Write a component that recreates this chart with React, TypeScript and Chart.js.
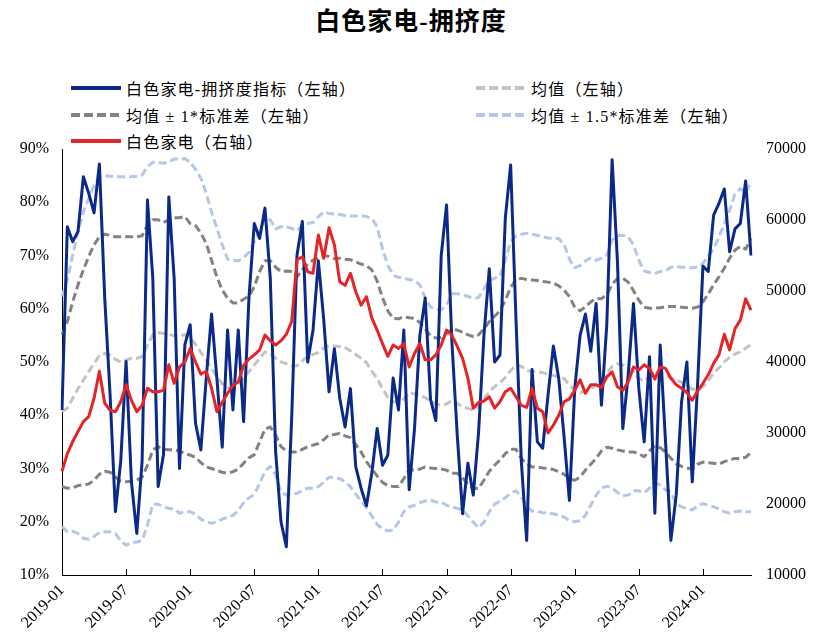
import React, { useEffect, useRef } from 'react';
import { Chart, registerables } from 'chart.js';

Chart.register(...registerables);

// Semi-monthly periods from 2019-01 to mid 2024-05 (130 points)
const periods: string[] = [];
for (let y = 2019; y <= 2024; y++) {
  for (let m = 1; m <= 12; m++) {
    const mm = m < 10 ? '0' + m : '' + m;
    periods.push(`${y}-${mm}-01`, `${y}-${mm}-16`);
  }
}
const labels = periods.slice(0, 130);

// 白色家电-拥挤度指标（左轴, %）
const crowding = [
  41, 75.4, 72.6, 74.5, 84.8, 81.7, 78, 87.2, 62, 43.9, 21.9, 31.4, 50.1, 27.5, 17.8, 31.4, 80.4, 65.7, 26.6, 32.6, 81, 65.7, 30, 53.2, 57,
  38.5, 33.5, 46.9, 59, 46.9, 34, 56, 41, 56, 38.8, 62, 76, 73.2, 78.9, 65.7, 33.1, 20, 15.3, 39.4, 70.1, 76.4, 50, 56, 69, 58, 44.4,
  52.5, 43.2, 37.8, 45, 30.3, 26.3, 23, 29.1, 37.5, 30.6, 32.5, 47, 41, 56, 26, 37.5, 55, 62, 43, 39, 70, 79.5, 53.8, 36.3, 21.5, 31,
  25, 36.9, 55, 67.5, 50, 51.3, 77, 87, 58, 31.3, 16.5, 48.6, 35, 33.8, 43.8, 53, 46.9, 36, 24, 45, 55, 59, 52, 61, 41.9,
  57, 88, 68.8, 37.5, 47.5, 61, 45, 35, 51, 21.6, 53.2, 35, 16.5, 25, 42.5, 50, 27.5, 45.7, 68, 67, 77.6, 79.8, 82.5, 70.7, 75, 76, 84, 70,
];

// 白色家电指数（右轴）
const appliance = [
  24600, 27100, 28800, 30200, 31600, 32300, 34900, 38700, 34200, 33200, 33000, 34400, 36800, 34600, 33000, 33900, 36300, 35800, 35800, 36000, 39600, 37000, 39300, 40000, 41900,
  40000, 38300, 38700, 36300, 33000, 34300, 35600, 36700, 37200, 39500, 40400, 41000, 41700, 43800, 43000, 42400, 43000, 43900, 45700, 54400, 54800, 52700, 52500, 57900, 54600, 58900,
  56500, 51300, 50800, 52500, 49900, 48000, 49200, 46200, 44500, 42600, 40800, 42400, 41900, 42600, 39300, 41200, 42600, 40300, 40300, 41000, 42400, 44500, 43800, 42200, 40500, 37700,
  33500, 34300, 34500, 35100, 33500, 34400, 35800, 36300, 35100, 33900, 33600, 36300, 33500, 33000, 30000, 31100, 32500, 34400, 34800, 36000, 37500, 35600, 36800, 36800, 36400,
  37900, 38600, 36500, 36000, 37200, 39300, 38900, 39600, 39100, 37600, 39300, 39100, 37700, 36800, 36300, 35700, 34600, 35900, 37000, 38200, 39800, 41000, 43900, 41700, 44700, 45900, 48900, 47300,
];

// 均值（左轴）
const meanLine = [
  40.7, 41.3, 43.2, 45.0, 46.6, 48.2, 49.7, 51.2, 51.6, 51.3, 50.5, 50.0, 50.4, 50.7, 50.7, 51.0, 53.2, 55.1, 55.5, 55.4, 55.2, 54.9, 54.9, 55.1, 54.6,
  53.3, 51.8, 50.4, 48.7, 47.2, 45.9, 45.2, 45.2, 45.9, 47.1, 48.2, 49.4, 50.7, 51.9, 51.6, 50.7, 50.0, 49.7, 49.3, 49.3, 50.2, 51.1, 51.4, 51.8, 52.6, 53.1,
  53.0, 52.9, 52.7, 52.1, 51.4, 50.7, 49.9, 48.3, 46.9, 45.0, 43.4, 42.5, 42.6, 43.0, 44.3, 44.0, 43.7, 43.3, 42.7, 42.1, 41.9, 42.1, 42.8, 42.2, 41.6, 41.3,
  41.0, 41.6, 43.1, 44.4, 45.4, 46.1, 47.1, 48.4, 49.4, 49.2, 48.4, 48.2, 48.2, 48.0, 47.7, 47.5, 47.2, 46.9, 45.7, 44.5, 44.2, 44.6, 45.0, 45.7, 46.4,
  47.9, 49.2, 49.7, 49.4, 49.0, 48.2, 46.9, 46.4, 47.2, 48.0, 47.9, 47.5, 46.9, 46.6, 46.2, 45.6, 44.9, 44.9, 45.4, 46.5, 47.9, 48.9, 50.0, 50.9, 51.5, 51.9, 52.6, 53.3,
];

// 均值+1*标准差
const upper1 = [
  55.1, 57.6, 61.3, 64.5, 67.3, 69.8, 72.0, 73.5, 74.0, 73.8, 73.5, 73.5, 73.5, 73.5, 73.5, 73.7, 75.7, 76.7, 76.7, 76.2, 76.7, 77.1, 77.1, 77.3, 76.0,
  75.6, 74.2, 72.3, 69.1, 66.0, 63.5, 62.0, 61.1, 61.1, 61.8, 62.4, 64.1, 67.0, 69.0, 69.0, 67.8, 67.0, 67.1, 67.0, 66.0, 67.3, 68.4, 69.1, 69.6, 70.0, 69.8,
  69.4, 69.5, 69.3, 69.2, 68.8, 68.4, 68.1, 67.3, 65.2, 62.1, 59.6, 58.2, 58.1, 58.5, 58.3, 58.2, 57.4, 56.2, 54.9, 54.5, 54.6, 55.4, 56.1, 56.0, 55.6, 55.1,
  54.8, 55.1, 56.2, 57.6, 58.6, 59.6, 61.6, 64.0, 65.5, 65.7, 65.5, 65.4, 65.3, 65.1, 65.0, 64.8, 64.3, 63.5, 62.3, 60.3, 59.6, 60.4, 61.3, 61.9, 61.9,
  62.6, 64.6, 65.7, 65.7, 65.0, 63.4, 61.6, 60.3, 60.1, 60.1, 60.2, 60.4, 60.4, 60.4, 60.3, 60.2, 60.1, 60.3, 61.3, 62.8, 64.5, 66.0, 67.6, 69.5, 71.0, 71.7, 71.2, 73.2,
];

// 均值-1*标准差
const lower1 = [
  26.6, 26.3, 26.4, 26.8, 26.9, 27.1, 27.8, 28.9, 29.5, 29.3, 28.4, 27.6, 27.5, 27.6, 27.8, 28.4, 30.6, 33.5, 34.1, 33.6, 33.5, 33.5, 33.3, 32.8, 32.5,
  32.1, 31.1, 30.3, 30.0, 29.6, 29.3, 29.1, 29.4, 29.9, 31.0, 32.0, 32.6, 35.0, 37.4, 37.8, 36.3, 34.1, 33.3, 33.1, 33.1, 33.6, 34.1, 34.4, 34.7, 35.4, 36.3,
  36.4, 36.6, 36.1, 35.8, 34.5, 33.1, 31.3, 29.9, 28.6, 27.4, 26.8, 26.6, 26.6, 28.1, 29.7, 29.7, 29.9, 30.3, 30.1, 30.0, 29.9, 29.7, 29.1, 29.1, 28.3, 27.0,
  26.2, 26.3, 27.8, 29.5, 30.6, 31.6, 32.8, 33.6, 33.6, 31.9, 30.8, 30.3, 30.3, 30.1, 30.0, 29.8, 29.4, 28.9, 28.1, 27.8, 28.4, 29.7, 30.8, 31.9, 33.3,
  34.0, 33.8, 33.5, 33.3, 33.1, 33.1, 32.8, 32.2, 33.3, 34.3, 33.9, 33.1, 31.9, 30.9, 30.4, 30.1, 29.9, 30.8, 31.2, 31.1, 31.0, 30.8, 31.3, 31.6, 31.9, 31.9, 32.1, 33.0,
];

// 均值+1.5*标准差
const upper15 = [
  62.3, 65.4, 70.1, 74.5, 78.2, 80.7, 83.1, 84.8, 85.0, 84.9, 84.8, 84.8, 84.8, 84.8, 84.9, 85.1, 86.7, 87.5, 87.5, 87.3, 87.6, 88.1, 88.1, 88.2, 87.5,
  86.2, 84.5, 81.7, 78.2, 75.1, 72.0, 69.3, 69.1, 69.0, 69.6, 70.6, 72.6, 74.5, 77.0, 76.7, 75.0, 75.4, 75.4, 75.1, 74.6, 75.8, 76.0, 76.2, 77.3, 78.2, 77.9,
  77.8, 77.7, 77.5, 77.4, 77.4, 77.5, 77.3, 77.0, 75.4, 71.3, 68.2, 66.3, 65.9, 65.7, 65.5, 65.3, 64.5, 62.0, 60.3, 59.9, 59.8, 60.7, 62.8, 62.8, 62.6, 62.3,
  62.0, 62.1, 63.7, 65.4, 65.7, 66.1, 69.1, 72.6, 73.7, 74.0, 74.2, 74.0, 73.8, 73.5, 73.3, 73.2, 73.2, 72.1, 69.3, 67.7, 68.1, 69.0, 69.5, 69.1, 69.5,
  70.1, 72.9, 73.7, 73.8, 73.5, 72.0, 69.1, 67.1, 66.8, 66.6, 67.0, 67.1, 67.8, 67.9, 67.8, 67.7, 67.7, 67.8, 68.5, 69.9, 71.2, 73.5, 75.9, 78.5, 81.5, 82.6, 81.7, 83.9,
];

// 均值-1.5*标准差
const lower15 = [
  19.1, 18.1, 18.2, 17.8, 16.9, 16.7, 17.2, 18.0, 18.1, 18.1, 17.8, 16.4, 15.6, 16.1, 16.2, 16.5, 19.4, 23.3, 23.3, 22.8, 22.5, 22.4, 21.6, 21.9, 21.9,
  21.4, 20.5, 20.0, 19.7, 20.0, 20.5, 20.9, 21.2, 22.1, 23.6, 24.5, 25.1, 27.2, 29.5, 30.4, 28.8, 25.6, 25.0, 25.3, 25.3, 25.9, 26.3, 26.3, 26.6, 27.4, 28.4,
  28.2, 28.1, 27.5, 26.6, 25.2, 23.9, 22.6, 21.1, 19.5, 18.7, 18.3, 18.4, 19.9, 21.9, 22.8, 23.1, 23.6, 23.9, 24.1, 23.7, 23.7, 23.1, 22.8, 22.5, 22.2, 21.1,
  19.9, 18.9, 19.9, 21.9, 23.3, 23.9, 24.5, 25.4, 25.8, 24.7, 22.8, 22.0, 22.0, 21.7, 21.6, 21.5, 21.2, 20.9, 20.2, 20.0, 20.2, 21.2, 23.1, 25.0, 26.3,
  26.7, 26.3, 25.5, 24.9, 25.0, 25.8, 25.8, 25.4, 26.3, 27.3, 26.9, 26.0, 25.6, 23.4, 22.8, 22.5, 22.2, 23.0, 23.4, 23.1, 22.8, 22.4, 21.9, 21.6, 21.9, 22.0, 21.9, 21.9,
];

const FONT = "'Liberation Serif', 'Noto Sans CJK SC', serif";
const C_BLUE = '#0B2A87';
const C_RED = '#E32528';
const C_MEAN = '#C3C3C3';
const C_STD1 = '#828282';
const C_STD15 = '#B4C7E7';

const innerTicks = {
  id: 'innerTicks',
  afterDraw(chart: any) {
    const xs = chart.scales.x;
    const { ctx, chartArea } = chart;
    ctx.save();
    ctx.strokeStyle = '#000';
    ctx.lineWidth = 1;
    for (let i = 12; i < labels.length; i += 12) {
      const px = Math.round(xs.getPixelForValue(i)) + 0.5;
      ctx.beginPath();
      ctx.moveTo(px, chartArea.bottom);
      ctx.lineTo(px, chartArea.bottom - 6);
      ctx.stroke();
    }
    ctx.restore();
  },
};

function LegendItem(props: { x: number; y: number; color: string; dash?: boolean; text: string }) {
  const { x, y, color, dash, text } = props;
  return (
    <div
      style={{
        position: 'absolute',
        left: x,
        top: y - 12,
        height: 24,
        display: 'flex',
        alignItems: 'center',
        whiteSpace: 'nowrap',
      }}
    >
      <svg width={50} height={6} style={{ display: 'block' }}>
        <line
          x1={0}
          y1={3}
          x2={50}
          y2={3}
          stroke={color}
          strokeWidth={4}
          strokeDasharray={dash ? '9 4' : undefined}
        />
      </svg>
      <span style={{ marginLeft: 5, fontSize: 16, fontFamily: FONT, color: '#000', letterSpacing: '1.2px' }}>{text}</span>
    </div>
  );
}

export default function App() {
  const canvasRef = useRef<HTMLCanvasElement | null>(null);

  useEffect(() => {
    if (!canvasRef.current) return;
    const dashed = [8, 4];
    const chart = new Chart(canvasRef.current, {
      type: 'line',
      data: {
        labels,
        datasets: [
          { label: '白色家电（右轴）', data: appliance, yAxisID: 'y1', borderColor: C_RED, borderWidth: 3, order: 0 },
          { label: '白色家电-拥挤度指标（左轴）', data: crowding, yAxisID: 'y', borderColor: C_BLUE, borderWidth: 3, order: 1 },
          { label: '均值（左轴）', data: meanLine, yAxisID: 'y', borderColor: C_MEAN, borderWidth: 3, borderDash: dashed, order: 2 },
          { label: '均值+1*标准差', data: upper1, yAxisID: 'y', borderColor: C_STD1, borderWidth: 3, borderDash: dashed, order: 3 },
          { label: '均值-1*标准差', data: lower1, yAxisID: 'y', borderColor: C_STD1, borderWidth: 3, borderDash: dashed, order: 3 },
          { label: '均值+1.5*标准差', data: upper15, yAxisID: 'y', borderColor: C_STD15, borderWidth: 3, borderDash: dashed, order: 4 },
          { label: '均值-1.5*标准差', data: lower15, yAxisID: 'y', borderColor: C_STD15, borderWidth: 3, borderDash: dashed, order: 4 },
        ],
      },
      options: {
        animation: false,
        responsive: false,
        devicePixelRatio: 1,
        layout: { padding: { top: 149, left: 0, right: 0, bottom: 0 } },
        plugins: {
          legend: { display: false },
          title: { display: false },
          tooltip: { enabled: false },
        },
        elements: {
          point: { radius: 0, hoverRadius: 0 },
          line: { tension: 0, borderJoinStyle: 'round', borderCapStyle: 'butt' },
        },
        scales: {
          x: {
            type: 'category',
            offset: false,
            grid: { display: false, drawTicks: false },
            border: { display: true, color: '#000', width: 1 },
            ticks: {
              autoSkip: false,
              maxRotation: 45,
              minRotation: 45,
              padding: 6,
              color: '#000',
              font: { family: FONT, size: 16 },
              callback: (_v: any, i: number) => (i % 12 === 0 ? labels[i].slice(0, 7) : ''),
            },
            afterFit: (s: any) => {
              s.height = 67;
            },
          },
          y: {
            position: 'left',
            min: 10,
            max: 90,
            grid: { display: false, drawTicks: false },
            border: { display: true, color: '#000', width: 1 },
            ticks: {
              stepSize: 10,
              padding: 13,
              color: '#000',
              font: { family: FONT, size: 16 },
              callback: (v: any) => `${v}%`,
            },
            afterFit: (s: any) => {
              s.width = 62;
            },
          },
          y1: {
            position: 'right',
            min: 10000,
            max: 70000,
            grid: { display: false, drawTicks: false },
            border: { display: false },
            ticks: {
              stepSize: 10000,
              padding: 15,
              color: '#000',
              font: { family: FONT, size: 16 },
              callback: (v: any) => `${v}`,
            },
            afterFit: (s: any) => {
              s.width = 71;
            },
          },
        },
      } as any,
      plugins: [innerTicks],
    });
    return () => chart.destroy();
  }, []);

  return (
    <div style={{ position: 'absolute', left: 0, top: 0, width: 822, height: 642, background: '#fff', overflow: 'hidden' }}>
      <div
        style={{
          position: 'absolute',
          left: 0,
          top: 1,
          width: 822,
          textAlign: 'center',
          fontFamily: FONT,
          fontWeight: 'bold',
          fontSize: 25,
          letterSpacing: '1px',
          color: '#000',
        }}
      >
        白色家电-拥挤度
      </div>
      <LegendItem x={71} y={88} color={C_BLUE} text="白色家电-拥挤度指标（左轴）" />
      <LegendItem x={476} y={88} color={C_MEAN} dash text="均值（左轴）" />
      <LegendItem x={71} y={115} color={C_STD1} dash text="均值 ± 1*标准差（左轴）" />
      <LegendItem x={476} y={115} color={C_STD15} dash text="均值 ± 1.5*标准差（左轴）" />
      <LegendItem x={71} y={141} color={C_RED} text="白色家电（右轴）" />
      <canvas ref={canvasRef} width={822} height={642} style={{ position: 'absolute', left: 0, top: 0, width: 822, height: 642 }} />
    </div>
  );
}
